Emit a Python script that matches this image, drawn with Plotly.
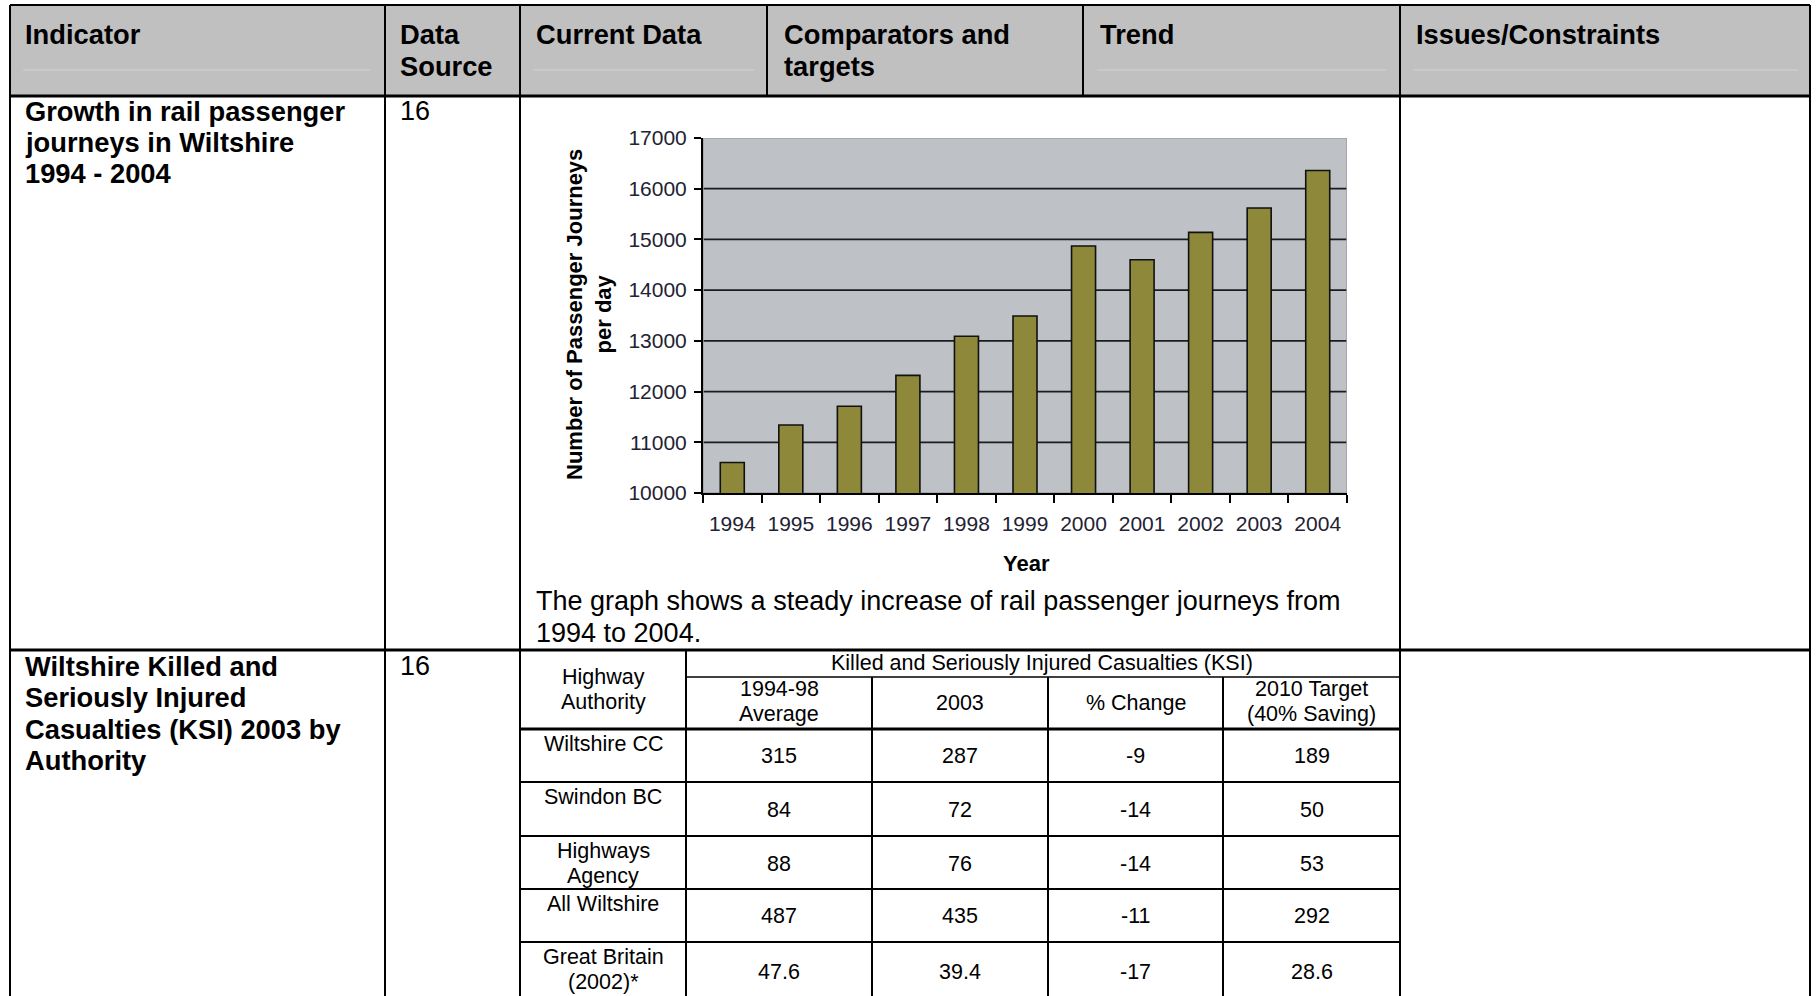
import plotly.graph_objects as go

W, H = 1820, 996
FONT = "Liberation Sans, Arial, sans-serif"

# ---- rail passenger journeys per day ----
years = ["1994", "1995", "1996", "1997", "1998", "1999", "2000", "2001", "2002", "2003", "2004"]
journeys = [10600, 11340, 11710, 12320, 13090, 13490, 14870, 14600, 15140, 15620, 16360]
y_tick_values = [10000, 11000, 12000, 13000, 14000, 15000, 16000, 17000]

# ---- outer table text ----
header_cells = [["Indicator"], ["Data", "Source"], ["Current Data"],
                ["Comparators and", "targets"], ["Trend"], ["Issues/Constraints"]]
row1_indicator = ["Growth in rail passenger", "journeys in Wiltshire", "1994 - 2004"]
row2_indicator = ["Wiltshire Killed and", "Seriously Injured", "Casualties (KSI) 2003 by", "Authority"]
data_source = ["16", "16"]
chart_caption = ["The graph shows a steady increase of rail passenger journeys from",
                 "1994 to 2004."]

# ---- KSI casualties table ----
ksi_title = "Killed and Seriously Injured Casualties (KSI)"
ksi_first_head = ["Highway", "Authority"]
ksi_col_heads = [["1994-98", "Average"], ["2003"], ["% Change"], ["2010 Target", "(40% Saving)"]]
ksi_authority = [["Wiltshire CC"], ["Swindon BC"], ["Highways", "Agency"],
                 ["All Wiltshire"], ["Great Britain", "(2002)*"]]
ksi_avg_1994_98 = [315, 84, 88, 487, 47.6]
ksi_2003 = [287, 72, 76, 435, 39.4]
ksi_pct_change = [-9, -14, -14, -11, -17]
ksi_target_2010 = [189, 50, 53, 292, 28.6]


def px(x):
    return x / W


def py(y):
    return 1 - y / H


shapes = []
annotations = []


def hline(y, x0, x1, w=2.0, color="black"):
    shapes.append(dict(type="line", xref="paper", yref="paper", x0=px(x0), x1=px(x1),
                       y0=py(y), y1=py(y), line=dict(color=color, width=w)))


def vline(x, y0, y1, w=2.0, color="black"):
    shapes.append(dict(type="line", xref="paper", yref="paper", x0=px(x), x1=px(x),
                       y0=py(y0), y1=py(y1), line=dict(color=color, width=w)))


def label(x, y, s, size=27, bold=False, xanchor="left"):
    annotations.append(dict(xref="paper", yref="paper", x=px(x), y=py(y),
                            text=f"<b>{s}</b>" if bold else s, showarrow=False,
                            xanchor=xanchor, yanchor="middle",
                            font=dict(family=FONT, size=size, color="black")))


# ---- outer table grid ----
LEFT, RIGHT, TOP, HEAD_BOT, ROW1_BOT, BOTTOM = 10, 1810, 5, 96, 650, 1000
BOLD_SIZE = 27.3

shapes.append(dict(type="rect", xref="paper", yref="paper", x0=px(LEFT), x1=px(RIGHT),
                   y0=py(HEAD_BOT), y1=py(TOP), fillcolor="#C0C0C0", line_width=0,
                   layer="below"))
# faint rule inside the shaded header cells
for a, b in [(23, 370), (533, 754), (1097, 1386), (1413, 1798)]:
    hline(70, a, b, w=1, color="#D2D2D2")

hline(TOP, LEFT, RIGHT)
hline(HEAD_BOT, LEFT, RIGHT, w=3)
hline(ROW1_BOT, LEFT, RIGHT, w=3)
for x in [LEFT, 385, 520, 1400, RIGHT]:
    vline(x, TOP, BOTTOM)
for x in [767, 1083]:
    vline(x, TOP, HEAD_BOT)

# header text
head_text_x = [23, 398, 534, 782, 1098, 1414]
for cx, lines in zip(head_text_x, header_cells):
    for i, s in enumerate(lines):
        label(cx, 35 + 31 * i, s, size=BOLD_SIZE, bold=True)

for i, s in enumerate(row1_indicator):
    label(23, 111 + 31.5 * i, s, size=BOLD_SIZE, bold=True)
for i, s in enumerate(row2_indicator):
    label(23, 666 + 31.5 * i, s, size=BOLD_SIZE, bold=True)
label(398, 111, data_source[0])
label(398, 666, data_source[1])
for i, s in enumerate(chart_caption):
    label(534, 601 + 32 * i, s)

# ---- KSI table grid ----
k_cols = [520, 686, 872, 1048, 1223, 1400]
k_rows = [729, 782, 836, 889, 942]
hline(677, 686, 1400, w=1.5)
hline(k_rows[0], 520, 1400, w=3)
for y in k_rows[1:]:
    hline(y, 520, 1400, w=2)
vline(686, ROW1_BOT, BOTTOM, w=2)
for x in k_cols[2:5]:
    vline(x, 677, BOTTOM, w=2)

KS = 21.5
label(1042, 663, ksi_title, size=KS, xanchor="center")
for i, s in enumerate(ksi_first_head):
    label(603, 677 + 25 * i, s, size=KS, xanchor="center")
col_centres = [(k_cols[i] + k_cols[i + 1]) / 2 for i in range(1, 5)]
for cx, lines in zip(col_centres, ksi_col_heads):
    if len(lines) == 1:
        label(cx, 703, lines[0], size=KS, xanchor="center")
    else:
        for i, s in enumerate(lines):
            label(cx, 689 + 25 * i, s, size=KS, xanchor="center")

for r, lines in enumerate(ksi_authority):
    for i, s in enumerate(lines):
        label(603, k_rows[r] + 15 + 25 * i, s, size=KS, xanchor="center")
value_cols = [ksi_avg_1994_98, ksi_2003, ksi_pct_change, ksi_target_2010]
row_mid = [756, 810, 864, 916, 972]
for cx, values in zip(col_centres, value_cols):
    for r, v in enumerate(values):
        label(cx, row_mid[r], str(v), size=KS, xanchor="center")

# ---- bar chart ----
PL, PR, PT, PB = 703, 1347, 138, 493

fig = go.Figure(go.Bar(
    x=years, y=journeys,
    marker=dict(color="#8E883A", line=dict(color="#111111", width=1.6)),
    hoverinfo="x+y",
))

# horizontal rules behind the bars
for v in y_tick_values[1:-1]:
    shapes.append(dict(type="line", xref="x", yref="y", x0=-0.5, x1=len(years) - 0.5,
                       y0=v, y1=v, line=dict(color="#1C1C1C", width=1.7), layer="below"))
shapes.append(dict(type="rect", xref="x", yref="y", x0=-0.5, x1=len(years) - 0.5,
                   y0=10000, y1=17000, line=dict(color="#9E9E9E", width=1.5), layer="below"))

annotations.append(dict(xref="paper", yref="paper", x=px(589), y=py(315),
                        text="<b>Number of Passenger Journeys<br>per day</b>",
                        textangle=-90, showarrow=False, xanchor="center", yanchor="middle",
                        font=dict(family=FONT, size=22, color="black")))
annotations.append(dict(xref="paper", yref="paper", x=px(1026), y=py(563),
                        text="<b>Year</b>", showarrow=False, xanchor="center",
                        yanchor="middle", font=dict(family=FONT, size=22, color="black")))

fig.update_layout(
    width=W, height=H, margin=dict(l=0, r=0, t=0, b=0, autoexpand=False),
    paper_bgcolor="white", plot_bgcolor="#BEC2C6",
    showlegend=False, bargap=0.59,
    shapes=shapes, annotations=annotations,
    xaxis=dict(domain=[px(PL), px(PR)], type="category", tickson="boundaries",
               range=[-0.5, len(years) - 0.5], automargin=False,
               showgrid=False, ticks="outside", ticklen=8, tickwidth=2, tickcolor="black",
               showline=True, linecolor="black", linewidth=2,
               tickfont=dict(family=FONT, size=21, color="#222233"),
               ticklabelstandoff=11, fixedrange=True),
    yaxis=dict(domain=[py(PB), py(PT)], range=[10000, 17000], tickvals=y_tick_values,
               tickformat="d", automargin=False,
               showgrid=False, zeroline=False, ticks="outside", ticklen=7, tickwidth=2,
               tickcolor="black", showline=True, linecolor="black", linewidth=2,
               tickfont=dict(family=FONT, size=21, color="#222233"),
               ticklabelstandoff=3, fixedrange=True),
)

fig.write_html("out.html", config={"displayModeBar": False})
